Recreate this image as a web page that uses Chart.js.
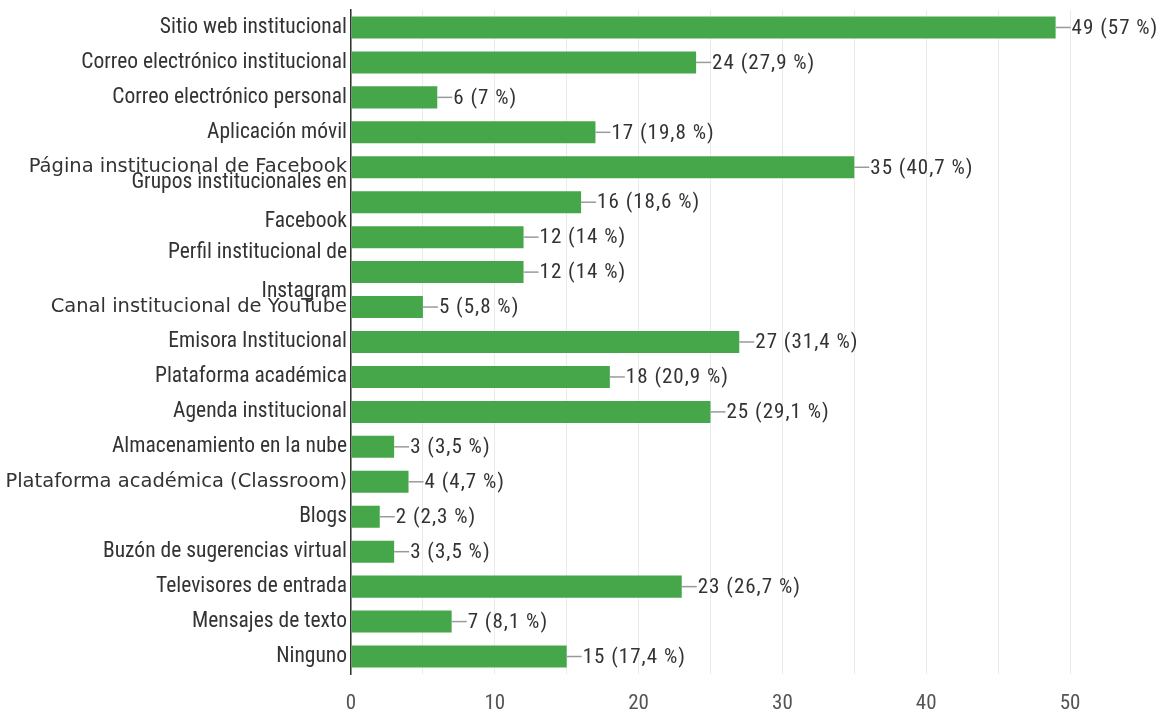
<!DOCTYPE html>
<html>
<head>
<meta charset="utf-8">
<script src="https://cdn.jsdelivr.net/npm/chart.js@4/dist/chart.umd.min.js"></script>
<style>
    html, body { margin: 0; padding: 0; background: #fff; }
    #wrap { width: 1166px; height: 717px; position: relative; }
</style>
</head>
<body>
<div id="wrap"><canvas id="chart"></canvas></div>
<script>
const categories = [
    'Sitio web institucional',
    'Correo electrónico institucional',
    'Correo electrónico personal',
    'Aplicación móvil',
    'Página institucional de Facebook',
    ['Grupos institucionales en', 'Facebook'],
    '',
    ['Perfil institucional de', 'Instagram'],
    'Canal institucional de YouTube',
    'Emisora Institucional',
    'Plataforma académica',
    'Agenda institucional',
    'Almacenamiento en la nube',
    'Plataforma académica (Classroom)',
    'Blogs',
    'Buzón de sugerencias virtual',
    'Televisores de entrada',
    'Mensajes de texto',
    'Ninguno'
];
const counts = [49, 24, 6, 17, 35, 16, 12, 12, 5, 27, 18, 25, 3, 4, 2, 3, 23, 7, 15];
const percents = ['57 %', '27,9 %', '7 %', '19,8 %', '40,7 %', '18,6 %', '14 %', '14 %', '5,8 %', '31,4 %',
    '20,9 %', '29,1 %', '3,5 %', '4,7 %', '2,3 %', '3,5 %', '26,7 %', '8,1 %', '17,4 %'];

// labels rendered in the wider font in the original
const wideRows = [4, 8, 13];
const NARROW = '"Roboto Condensed", "Liberation Sans Narrow", "Arial Narrow", "Liberation Sans", sans-serif';
const WIDE = '"DejaVu Sans", Verdana, sans-serif';

const valueLabels = {
    id: 'valueLabels',
    afterDatasetsDraw(chart) {
        const ctx = chart.ctx;
        const meta = chart.getDatasetMeta(0);
        ctx.save();
        ctx.font = '21px ' + NARROW;
        ctx.letterSpacing = '1px';
        ctx.textBaseline = 'middle';
        ctx.textAlign = 'left';
        meta.data.forEach((bar, i) => {
            ctx.strokeStyle = '#9a9a9a';
            ctx.lineWidth = 1.5;
            ctx.beginPath();
            ctx.moveTo(bar.x, bar.y);
            ctx.lineTo(bar.x + 15, bar.y);
            ctx.stroke();
            ctx.fillStyle = '#333';
            ctx.fillText(counts[i] + ' (' + percents[i] + ')', bar.x + 16, bar.y + 1);
        });
        ctx.restore();
    }
};

new Chart(document.getElementById('chart'), {
    type: 'bar',
    data: {
        labels: categories,
        datasets: [{
            data: counts,
            backgroundColor: '#45a74a',
            borderWidth: 0,
            categoryPercentage: 1,
            barPercentage: 0.63
        }]
    },
    options: {
        indexAxis: 'y',
        responsive: true,
        maintainAspectRatio: false,
        animation: false,
        layout: { padding: { top: 10, right: 96, bottom: 0, left: 0 } },
        plugins: {
            legend: { display: false },
            tooltip: { enabled: false }
        },
        scales: {
            x: {
                min: 0,
                max: 50,
                afterFit: scale => { scale.height = 43; scale.paddingLeft = 0; scale.paddingRight = 0; },
                ticks: {
                    stepSize: 5,
                    padding: 17,
                    color: '#555',
                    font: { size: 21, family: NARROW, lineHeight: 1.2 },
                    callback: v => v % 10 === 0 ? v : ''
                },
                grid: { color: '#ebebeb', drawTicks: false },
                border: { display: false }
            },
            y: {
                afterFit: scale => { scale.width = 351; scale.paddingTop = 0; scale.paddingBottom = 0; },
                grid: { display: false, drawTicks: false },
                border: { display: true, color: '#333', width: 1.5 },
                ticks: {
                    padding: 4,
                    color: '#333',
                    autoSkip: false,
                    font: c => wideRows.includes(c.index)
                        ? { size: 19.5, family: WIDE, lineHeight: 1 }
                        : Array.isArray(categories[c.index])
                            ? { size: 21.5, family: NARROW, lineHeight: 1.8 }
                            : { size: 21.5, family: NARROW, lineHeight: 1 }
                }
            }
        }
    },
    plugins: [valueLabels]
});
</script>
</body>
</html>
